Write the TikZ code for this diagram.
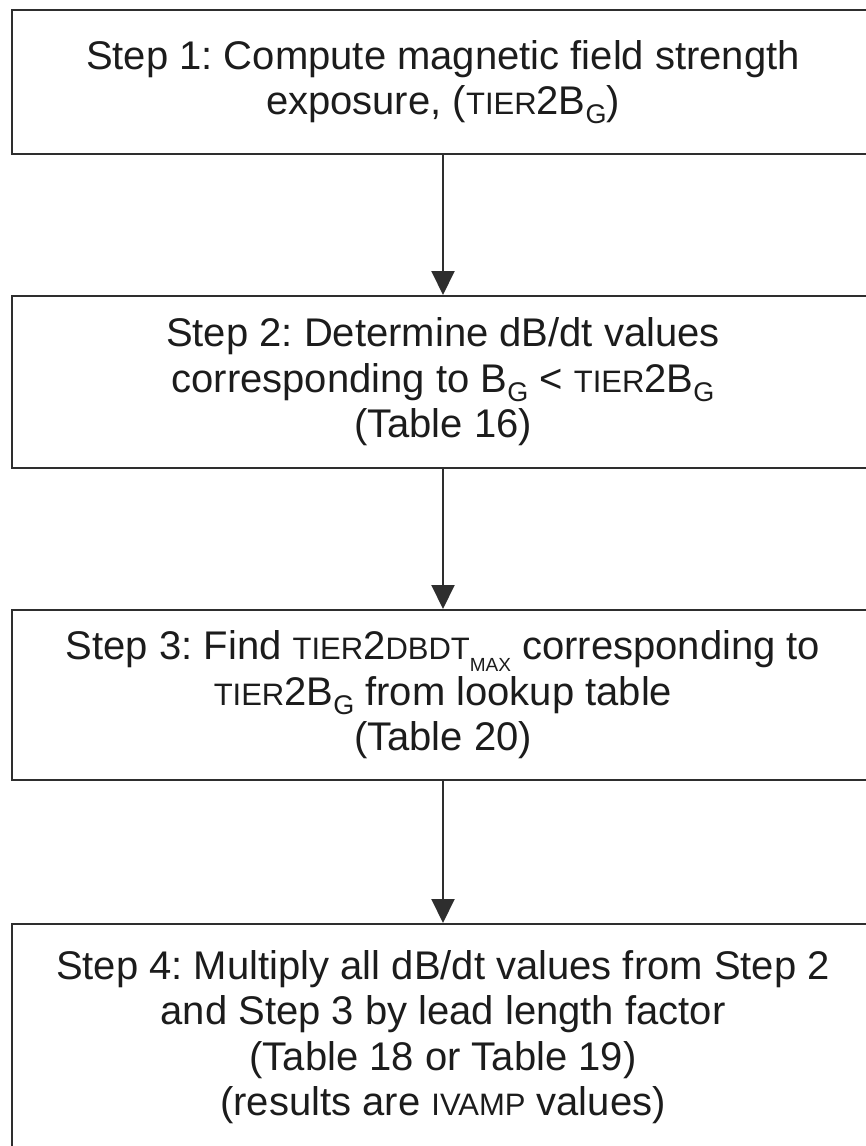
\documentclass[tikz,border=0pt]{standalone}
\usepackage{fontspec}
\setmainfont{Liberation Sans}
\usetikzlibrary{arrows.meta}
\frenchspacing
% reduced-size capitals and subscripts used in the variable names
\newcommand\lowcap[1]{{\fontsize{31}{31}\selectfont #1}}
\newcommand\subidx[1]{\raisebox{-0.22em}{\fontsize{27}{27}\selectfont #1}}
\newcommand\tinysub[1]{\raisebox{-0.3em}{\fontsize{19}{19}\selectfont #1}}
\definecolor{edge}{HTML}{2E2E2E}
\definecolor{ink}{HTML}{1C1C1C}
\begin{document}
\begin{tikzpicture}[x=1pt,y=-1pt,
  stepbox/.style={draw=edge, line width=2pt, minimum width=862pt, inner sep=0pt,
    align=center, text=ink, font=\fontsize{40}{45.5}\selectfont},
  flow/.style={draw=edge, line width=2pt, -{Triangle[width=23pt,length=24pt]}}]
  \useasboundingbox (0,0) rectangle (866,1146);
  \node[stepbox, minimum height=144pt] (b1) at (443,82)
    {Step 1: Compute magnetic field strength\\exposure, (\lowcap{TIER}2B\subidx{G})};
  \node[stepbox, minimum height=172pt] (b2) at (443,382)
    {Step 2: Determine dB/dt values\\corresponding to B\subidx{G} < \lowcap{TIER}2B\subidx{G}\\(Table 16)};
  \node[stepbox, minimum height=170pt] (b3) at (443,695)
    {Step 3: Find \lowcap{TIER}2\lowcap{DBDT}\tinysub{MAX} corresponding to\\\lowcap{TIER}2B\subidx{G} from lookup table\\(Table 20)};
  \node[stepbox, minimum height=226pt] (b4) at (443,1037)
    {Step 4: Multiply all dB/dt values from Step 2\\and Step 3 by lead length factor\\(Table 18 or Table 19)\\(results are \lowcap{IVAMP} values)};
  \draw[flow] (b1.south) -- (b2.north);
  \draw[flow] (b2.south) -- (b3.north);
  \draw[flow] (b3.south) -- (b4.north);
\end{tikzpicture}
\end{document}
